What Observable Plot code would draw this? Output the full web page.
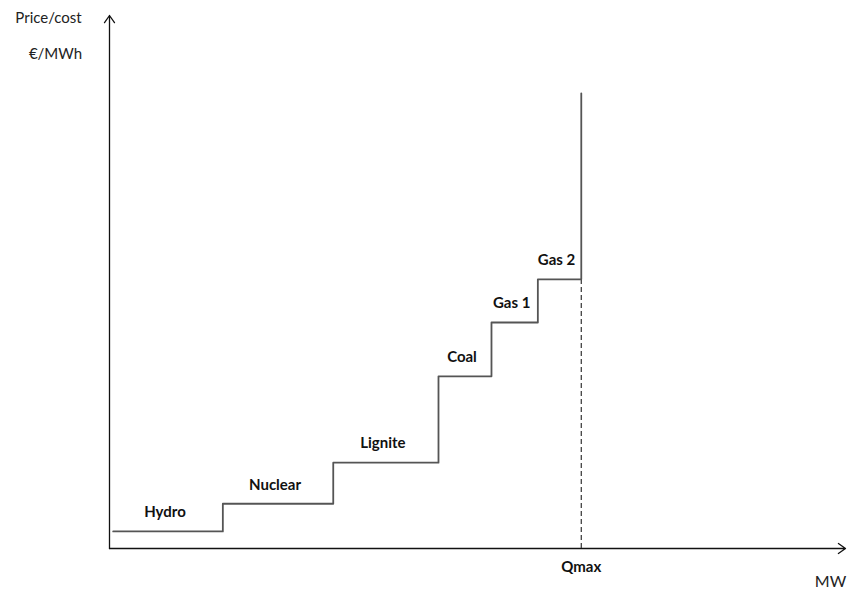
<!DOCTYPE html>
<html>
<head>
<meta charset="utf-8">
<script src="https://cdn.jsdelivr.net/npm/d3@7"></script>
<script src="https://cdn.jsdelivr.net/npm/@observablehq/plot@0.6"></script>
<style>
  html, body { margin: 0; padding: 0; background: #fff; }
  #chart svg { display: block; }
</style>
</head>
<body>
<div id="chart"></div>
<script>
// Merit-order supply curve (schematic, arbitrary units)
const sources = ["Hydro", "Nuclear", "Lignite", "Coal", "Gas 1", "Gas 2"];
// cumulative capacity where each block starts, plus the end (Qmax)
const capacityStart = [0.5, 15.4, 30.4, 44.7, 51.9, 58.2];
const qmax = 64.1;
// marginal cost of each block
const cost = [3.2, 8.4, 16.1, 32.3, 42.4, 50.5];
const capCost = 85.4; // vertical part of the curve at Qmax
const axisLabels = { y1: "Price/cost", y2: "€/MWh", x: "MW", q: "Qmax" };

const blocks = sources.map((s, i) => ({
  source: s,
  x0: capacityStart[i],
  x1: i + 1 < capacityStart.length ? capacityStart[i + 1] : qmax,
  cost: cost[i]
}));
const curve = blocks.map(b => ({ x: b.x0, y: b.cost }));
curve.push({ x: qmax, y: capCost });

const font = "Lato, 'Open Sans', sans-serif";

const chart = Plot.plot({
  width: 851,
  height: 591,
  marginLeft: 109,
  marginRight: 6,
  marginTop: 15,
  marginBottom: 43,
  x: { domain: [0, 100], axis: null },
  y: { domain: [0, 100], axis: null },
  style: { fontFamily: font, background: "#fff" },
  marks: [
    // axes with open arrowheads
    Plot.arrow([0], { x1: 0, y1: 0, x2: 0, y2: 100, stroke: "#111", strokeWidth: 1.3, headLength: 10, headAngle: 70, insetEnd: 0 }),
    Plot.arrow([0], { x1: 0, y1: 0, x2: 100, y2: 0, stroke: "#111", strokeWidth: 1.3, headLength: 10, headAngle: 70, insetEnd: 0 }),
    // dashed Qmax line
    Plot.ruleX([qmax], { y1: 0, y2: cost[cost.length - 1], stroke: "#333", strokeWidth: 1.2, strokeDasharray: "5,3" }),
    // supply step curve
    Plot.line(curve, { x: "x", y: "y", curve: "step-after", stroke: "#555", strokeWidth: 1.8 }),
    // block labels
    Plot.text(blocks, { x: d => (d.x0 + d.x1) / 2, y: "cost", text: "source", dx: -3, dy: -19, fontWeight: "bold", fontSize: 15, fill: "#111" }),
    // Qmax label
    Plot.text([axisLabels.q], { x: qmax, y: 0, text: d => d, dy: 19, fontWeight: "bold", fontSize: 15, fill: "#111" }),
    // axis titles
    Plot.text([axisLabels.y1], { x: 0, y: 100, text: d => d, dx: -61, dy: 3, fontSize: 15, fill: "#222" }),
    Plot.text([axisLabels.y2], { x: 0, y: 100, text: d => d, dx: -54, dy: 39, fontSize: 15, fill: "#222" }),
    Plot.text([axisLabels.x], { x: 100, y: 0, text: d => d, dx: -15, dy: 33, fontSize: 16, fill: "#222" })
  ]
});
document.getElementById("chart").appendChild(chart);
</script>
</body>
</html>
